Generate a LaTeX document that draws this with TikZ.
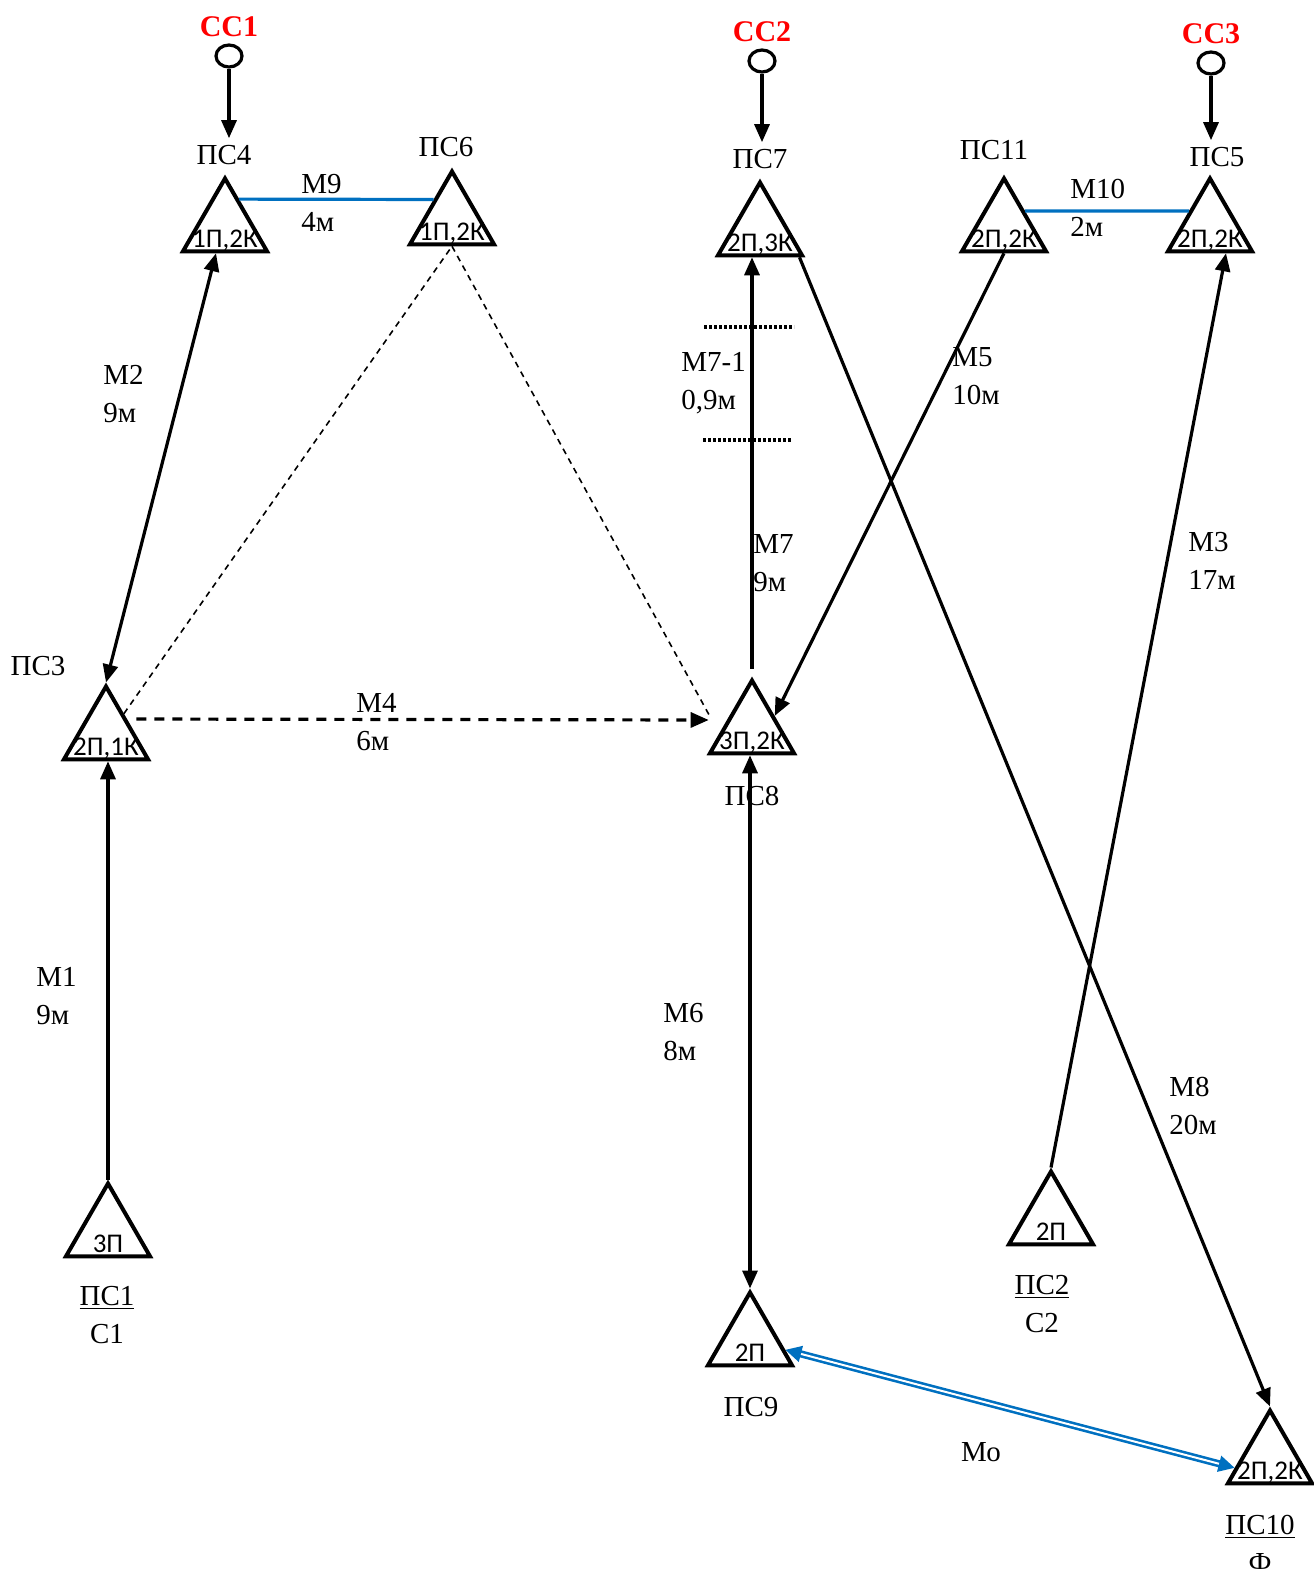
\documentclass[tikz,border=0pt]{standalone}
\usepackage{fontspec}
\setmainfont{Liberation Serif}
\newfontfamily\trifont{Carlito}
\usepackage{xcolor}
\usetikzlibrary{positioning}
\usetikzlibrary{arrows.meta, shapes.geometric}
\definecolor{lineblue}{HTML}{0070C0}
\definecolor{ccred}{HTML}{FF0000}

\begin{document}
\begin{tikzpicture}[x=0.5pt, y=-0.5pt, font=\fontsize{14.5}{19}\selectfont,
  tri/.style = {draw, regular polygon, regular polygon sides=3, minimum size=48.5pt, inner sep=0pt, line width=2pt,
    label={[anchor=base, yshift=3pt, inner sep=0pt, font=\trifont\fontsize{13.5}{14}\selectfont]south:#1}},
  src/.style = {draw, ellipse, minimum width=13pt, minimum height=11pt, inner sep=0pt, line width=1.6pt},
  srcname/.style = {text=ccred, font=\fontsize{15}{17}\selectfont\bfseries},
  mlabel/.style = {anchor=west, align=left, inner sep=0pt},
  ln/.style = {line width=1.6pt, -{Triangle[length=9pt, width=7.5pt]}},
  dbl/.style = {line width=1.6pt, {Triangle[length=9pt, width=7.5pt]}-{Triangle[length=9pt, width=7.5pt]}},
  dashln/.style = {ln, dash pattern=on 5pt off 4pt},
  thindash/.style = {line width=0.8pt, dash pattern=on 3pt off 2.5pt},
  link/.style = {lineblue, line width=1.6pt},
  mo/.style = {lineblue, line width=1.3pt, double=white, double distance=1pt, {Triangle[length=8pt, width=8pt]}-{Triangle[length=8pt, width=8pt]}},
  dotline/.style = {line width=1.6pt, dash pattern=on 1.3pt off 1.2pt}]
\useasboundingbox (0,0) rectangle (1313,1569);

% stations
\node[tri={1П,2К}] (ps4) at (225,227) {};
\node[tri={1П,2К}] (ps6) at (452,220) {};
\node[tri={2П,3К}] (ps7) at (760,231) {};
\node[tri={2П,2К}] (ps11) at (1004,227) {};
\node[tri={2П,2К}] (ps5) at (1210,227) {};
\node[tri={2П,1К}] (ps3) at (106,735) {};
\node[tri={3П,2К}] (ps8) at (752,729) {};
\node[tri={3П}] (ps1) at (108,1232) {};
\node[tri={2П}] (ps2) at (1051,1220) {};
\node[tri={2П}] (ps9) at (750,1341) {};
\node[tri={2П,2К}] (ps10) at (1270,1459) {};

\node (l4) at (224,155) {ПС4};
\node (l6) at (446,147) {ПС6};
\node (l7) at (760,159) {ПС7};
\node (l11) at (994,150) {ПС11};
\node (l5) at (1217,157) {ПС5};
\node (l3) at (38,666) {ПС3};
\node (l8) at (752,796) {ПС8};
\node[align=center] (l1) at (107,1315) {\underline{ПС1}\\С1};
\node[align=center] (l2) at (1042,1304) {\underline{ПС2}\\С2};
\node (l9) at (751,1407) {ПС9};
\node[align=center] (l10) at (1260,1544) {\underline{ПС10}\\Ф};

% sources
\node[src] (cc1) at (229,56) {};
\node[src] (cc2) at (762,61) {};
\node[src] (cc3) at (1211,63) {};
\node[srcname] (n1) [above=0pt of cc1] {СС1};
\node[srcname] (n2) [above=0pt of cc2] {СС2};
\node[srcname] (n3) [above=0pt of cc3] {СС3};

\path (cc1.south) edge[ln] (cc1.south |- l4.north);
\path (cc2.south) edge[ln] (cc2.south |- l7.north);
\path (cc3.south) edge[ln] (cc3.south |- l5.north);

% lines
\path (ps4.63) edge[link] (ps6.132);
\path (ps11.37) edge[link] (ps5.143);
\path ([xshift=-4.5pt]ps4.south) edge[dbl] (ps3.corner 1);
\path (ps1.corner 1) edge[ln] (ps1.corner 1 |- ps3.south);
\path ([yshift=8pt]ps3.east) edge[dashln] ([xshift=-6.5pt, yshift=4.5pt]ps8.west);
\path (ps3.50) edge[thindash] (ps6.south);
\path (ps6.south) edge[thindash] ([xshift=-6pt, yshift=6.5pt]ps8.west);
\path ([yshift=4pt]ps8.corner 1) edge[ln] (ps8.corner 1 |- ps7.south);
\path (ps11.south) edge[ln] (ps8.30);
\path ([xshift=-3pt]ps7.corner 3) edge[ln] (ps10.corner 1);
\path (ps2.corner 1) edge[ln] ([xshift=8pt]ps5.south);
\path (ps9.corner 1 |- ps8.south) edge[dbl] (ps9.corner 1);
\path (ps9.-14) edge[mo] (ps10.194);

\draw[dotline] (704,327) -- (794,327);
\draw[dotline] (703,440) -- (791,440);

% labels
\node[mlabel] (m9) at (301,203) {М9\\4м};
\node[mlabel] (m10) at (1070,208) {М10\\2м};
\node[mlabel] (m2) at (103,394) {М2\\9м};
\node[mlabel] (m1) at (36,996) {М1\\9м};
\node[mlabel] (m4) at (356,722) {М4\\6м};
\node[mlabel] (m71) at (681,383) {М7-1\\0,9м};
\node[mlabel] (m7) at (753,563) {М7\\9м};
\node[mlabel] (m5) at (952,376) {М5\\10м};
\node[mlabel] (m8) at (1169,1106) {М8\\20м};
\node[mlabel] (m3) at (1188,561) {М3\\17м};
\node[mlabel] (m6) at (663,1032) {М6\\8м};
\node (mo) at (981,1452) {Мо};
\end{tikzpicture}
\end{document}
